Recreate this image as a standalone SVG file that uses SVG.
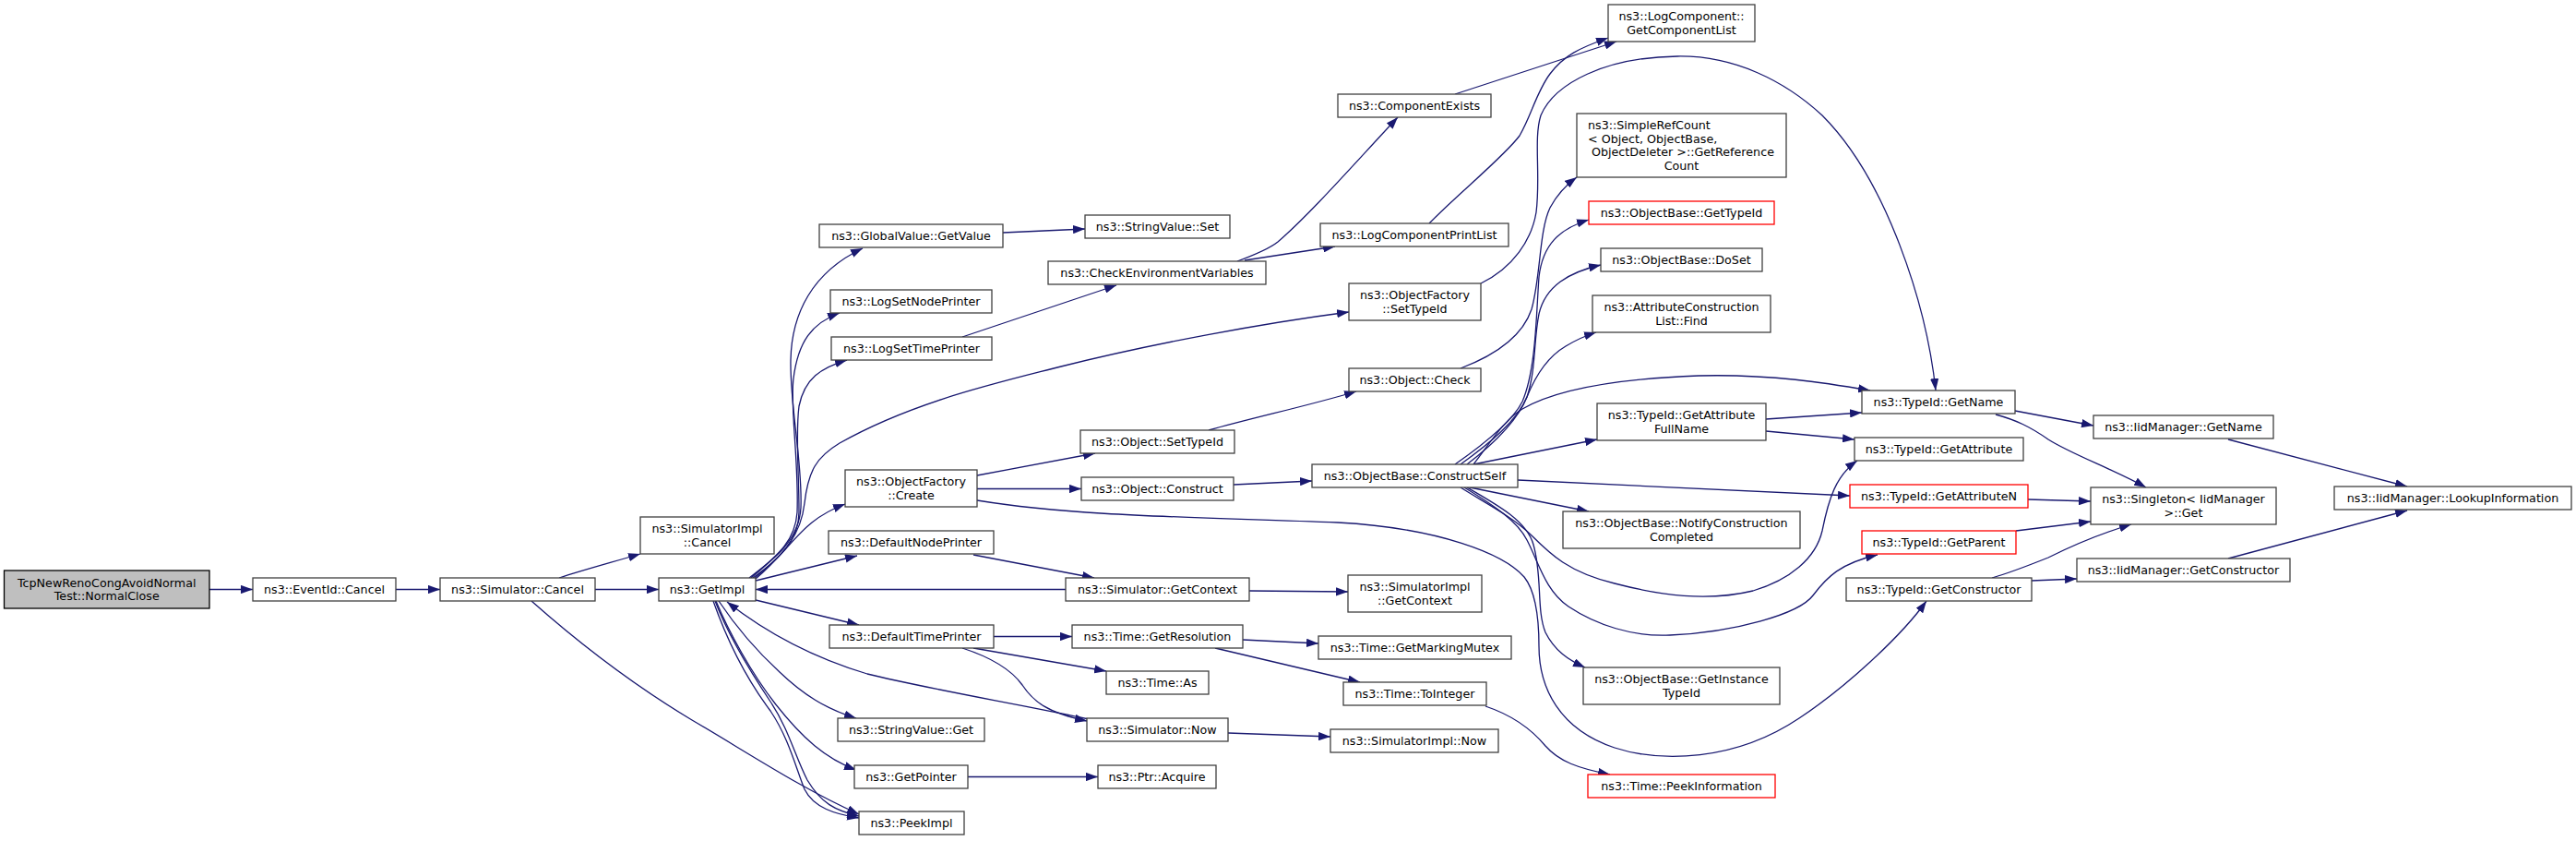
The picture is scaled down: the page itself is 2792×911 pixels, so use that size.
<svg xmlns="http://www.w3.org/2000/svg" width="2792" height="911" viewBox="0 0 2792 911">
<style>
.n rect{fill:#fff;stroke:#404040;stroke-width:1.3}
.n.red rect{stroke:#ff0000}
.n.root rect{fill:#bfbfbf;stroke:#000}
text{font-family:"DejaVu Sans","Liberation Sans",sans-serif;font-size:12.7px;fill:#000;text-anchor:middle}
text.l{text-anchor:start}
#edges path{fill:none;stroke:#191970;stroke-width:1.3;marker-end:url(#ah)}
</style>
<defs>
<marker id="ah" viewBox="0 0 13 9.3" markerWidth="13" markerHeight="9.3" refX="13" refY="4.65" orient="auto" markerUnits="userSpaceOnUse">
<path d="M0,0 L13,4.65 L0,9.3 z" fill="#191970"/>
</marker>
</defs>
<rect x="0" y="0" width="2792" height="911" fill="#fff"/>
<g id="edges">
<path d="M227,638.5 L274,638.5"/>
<path d="M429,638.5 L477,638.5"/>
<path d="M606,626 C630,618 660,610 694,600"/>
<path d="M645,638.5 L714,638.5"/>
<path d="M576,651 C620,690 680,738 750,780 C810,815 870,855 931,882"/>
<path d="M812,626 C840,605 866,585 868,550 C870,500 856,440 857,390 C858,340 880,295 935,269"/>
<path d="M814,626 C845,600 862,585 864,555 C866,500 856,440 860,410 C865,370 880,350 910,339"/>
<path d="M816,626 C845,605 866,585 866,555 C866,510 862,470 866,440 C872,410 890,398 918,390"/>
<path d="M818,626 C850,600 868,580 872,545 C876,510 885,495 910,480 C990,435 1080,415 1150,397 C1250,372 1370,350 1462,338"/>
<path d="M819,627 C845,605 862,580 880,566 C890,558 900,552 916,546"/>
<path d="M819,629 L929,602"/>
<path d="M819,650 L931,677"/>
<path d="M1155,638.5 L819,638.5"/>
<path d="M1055,601 L1186,626"/>
<path d="M779,651 C795,675 820,705 845,728 C870,752 895,768 928,778"/>
<path d="M776,651 C790,685 815,730 840,762 C870,800 895,822 928,834"/>
<path d="M773,651 C785,685 805,730 835,770 C855,800 862,830 872,855 C882,875 905,882 931,886"/>
<path d="M775,651 C790,690 815,730 835,760 C855,790 862,820 875,845 C890,870 905,878 931,884"/>
<path d="M1180,779 C1100,762 1000,745 940,730 C880,712 830,685 788,652"/>
<path d="M1077,689.5 L1162,689.5"/>
<path d="M1055,702 L1199,727"/>
<path d="M1043,702 C1080,714 1098,728 1108,742 C1120,760 1135,772 1178,781"/>
<path d="M1049,841.5 L1190,841.5"/>
<path d="M1087,252 L1176,248"/>
<path d="M1043,365 L1210,309"/>
<path d="M1059,515 L1187,491"/>
<path d="M1059,529.5 L1172,529.5"/>
<path d="M1059,542 C1170,560 1300,560 1450,566 C1560,572 1630,600 1652,625 C1664,640 1668,665 1668,700 C1668,745 1690,790 1750,810 C1800,826 1880,825 1950,778 C2000,745 2060,690 2088,651"/>
<path d="M1337,525 L1422,521"/>
<path d="M1310,466 C1360,452 1420,439 1470,424"/>
<path d="M1341,283 C1360,276 1375,270 1385,262 C1420,232 1470,175 1515,127"/>
<path d="M1349,282 L1447,267"/>
<path d="M1577,102 L1752,45"/>
<path d="M1549,242 C1580,210 1630,170 1647,147 C1660,125 1665,100 1680,80 C1695,60 1712,52 1743,41"/>
<path d="M1605,307 C1640,290 1660,260 1665,230 C1670,190 1662,150 1670,125 C1685,90 1740,62 1818,61 C1880,60 1935,88 1975,125 C2045,195 2088,330 2098,423"/>
<path d="M1583,399 C1620,385 1650,365 1660,335 C1670,300 1668,250 1680,225 C1688,210 1698,200 1709,192"/>
<path d="M1577,503 C1610,480 1640,455 1650,435 C1665,400 1665,340 1668,300 C1672,265 1690,248 1722,238"/>
<path d="M1583,503 C1615,480 1645,455 1655,430 C1665,400 1662,370 1668,340 C1675,310 1700,295 1735,287"/>
<path d="M1590,503 C1620,480 1645,455 1655,430 C1665,405 1680,385 1697,375 C1707,369 1717,364 1730,360"/>
<path d="M1597,503 C1615,480 1630,455 1650,443 C1690,420 1760,410 1841,407 C1920,405 1980,415 2027,423"/>
<path d="M1597,503 L1731,476"/>
<path d="M1645,520 L2005,537"/>
<path d="M1593,528 L1722,554"/>
<path d="M1583,528 C1610,545 1640,560 1660,580 C1680,600 1700,620 1750,632 C1800,645 1850,652 1900,640 C1940,628 1968,605 1975,575 C1982,540 1990,515 2013,499"/>
<path d="M1587,528 C1620,548 1645,565 1655,585 C1668,610 1675,640 1700,657 C1730,677 1770,690 1810,688 C1880,685 1950,665 1965,645 C1980,625 1995,610 2035,601"/>
<path d="M1590,528 C1625,548 1655,565 1662,590 C1672,625 1665,660 1675,685 C1685,705 1700,715 1718,723"/>
<path d="M1347,693 L1429,697"/>
<path d="M1317,702 L1474,739"/>
<path d="M1354,640 L1461,641"/>
<path d="M1331,794 L1442,798"/>
<path d="M1610,765 C1640,775 1660,790 1675,808 C1690,825 1710,832 1745,839"/>
<path d="M1914,454 L2018,447"/>
<path d="M1914,467 L2010,476"/>
<path d="M2184,445 L2269,461"/>
<path d="M2163,449 C2185,455 2200,462 2220,476 C2245,492 2290,508 2326,528"/>
<path d="M2198,541 L2266,543"/>
<path d="M2185,575 L2266,565"/>
<path d="M2159,626 C2180,620 2200,612 2220,604 C2240,594 2270,580 2310,568"/>
<path d="M2202,629 L2251,627"/>
<path d="M2415,476 L2609,527"/>
<path d="M2415,605 L2609,553"/>
</g>
<g id="n1" class="n root"><rect x="4.5" y="618" width="222.5" height="41"/><text x="115.75" y="635.75">TcpNewRenoCongAvoidNormal</text><text x="115.75" y="650.45">Test::NormalClose</text></g>
<g id="n2" class="n"><rect x="274" y="626" width="155" height="25"/><text x="351.5" y="643.1">ns3::EventId::Cancel</text></g>
<g id="n3" class="n"><rect x="477" y="626" width="168" height="25"/><text x="561" y="643.1">ns3::Simulator::Cancel</text></g>
<g id="n4" class="n"><rect x="694" y="560" width="145" height="40"/><text x="766.5" y="577.25">ns3::SimulatorImpl</text><text x="766.5" y="591.95">::Cancel</text></g>
<g id="n5" class="n"><rect x="714" y="626" width="105" height="25"/><text x="766.5" y="643.1">ns3::GetImpl</text></g>
<g id="n6" class="n"><rect x="888" y="243" width="199" height="25"/><text x="987.5" y="260.1">ns3::GlobalValue::GetValue</text></g>
<g id="n7" class="n"><rect x="900" y="314" width="175" height="25"/><text x="987.5" y="331.1">ns3::LogSetNodePrinter</text></g>
<g id="n8" class="n"><rect x="901" y="365" width="174" height="25"/><text x="988" y="382.1">ns3::LogSetTimePrinter</text></g>
<g id="n9" class="n"><rect x="916" y="509" width="143" height="40"/><text x="987.5" y="526.25">ns3::ObjectFactory</text><text x="987.5" y="540.95">::Create</text></g>
<g id="n10" class="n"><rect x="898" y="575" width="179" height="25"/><text x="987.5" y="592.1">ns3::DefaultNodePrinter</text></g>
<g id="n11" class="n"><rect x="899" y="677" width="178" height="25"/><text x="988" y="694.1">ns3::DefaultTimePrinter</text></g>
<g id="n12" class="n"><rect x="908" y="778" width="159" height="25"/><text x="987.5" y="795.1">ns3::StringValue::Get</text></g>
<g id="n13" class="n"><rect x="926" y="829" width="123" height="25"/><text x="987.5" y="846.1">ns3::GetPointer</text></g>
<g id="n14" class="n"><rect x="931" y="879" width="114" height="25"/><text x="988" y="896.1">ns3::PeekImpl</text></g>
<g id="n15" class="n"><rect x="1176" y="233" width="157" height="25"/><text x="1254.5" y="250.1">ns3::StringValue::Set</text></g>
<g id="n16" class="n"><rect x="1136" y="283" width="236" height="25"/><text x="1254" y="300.1">ns3::CheckEnvironmentVariables</text></g>
<g id="n17" class="n"><rect x="1171" y="466" width="167" height="25"/><text x="1254.5" y="483.1">ns3::Object::SetTypeId</text></g>
<g id="n18" class="n"><rect x="1172" y="517" width="165" height="25"/><text x="1254.5" y="534.1">ns3::Object::Construct</text></g>
<g id="n19" class="n"><rect x="1155" y="626" width="199" height="25"/><text x="1254.5" y="643.1">ns3::Simulator::GetContext</text></g>
<g id="n20" class="n"><rect x="1162" y="677" width="185" height="25"/><text x="1254.5" y="694.1">ns3::Time::GetResolution</text></g>
<g id="n21" class="n"><rect x="1199" y="727" width="111" height="25"/><text x="1254.5" y="744.1">ns3::Time::As</text></g>
<g id="n22" class="n"><rect x="1178" y="778" width="153" height="25"/><text x="1254.5" y="795.1">ns3::Simulator::Now</text></g>
<g id="n23" class="n"><rect x="1190" y="829" width="128" height="25"/><text x="1254" y="846.1">ns3::Ptr::Acquire</text></g>
<g id="n24" class="n"><rect x="1450" y="102" width="166" height="25"/><text x="1533" y="119.1">ns3::ComponentExists</text></g>
<g id="n25" class="n"><rect x="1431" y="242" width="204" height="25"/><text x="1533" y="259.1">ns3::LogComponentPrintList</text></g>
<g id="n26" class="n"><rect x="1462" y="307" width="143" height="40"/><text x="1533.5" y="324.25">ns3::ObjectFactory</text><text x="1533.5" y="338.95">::SetTypeId</text></g>
<g id="n27" class="n"><rect x="1462" y="399" width="143" height="25"/><text x="1533.5" y="416.1">ns3::Object::Check</text></g>
<g id="n28" class="n"><rect x="1422" y="503" width="223" height="25"/><text x="1533.5" y="520.1">ns3::ObjectBase::ConstructSelf</text></g>
<g id="n29" class="n"><rect x="1461" y="623" width="145" height="40"/><text x="1533.5" y="640.25">ns3::SimulatorImpl</text><text x="1533.5" y="654.95">::GetContext</text></g>
<g id="n30" class="n"><rect x="1429" y="689" width="209" height="25"/><text x="1533.5" y="706.1">ns3::Time::GetMarkingMutex</text></g>
<g id="n31" class="n"><rect x="1456" y="739" width="155" height="25"/><text x="1533.5" y="756.1">ns3::Time::ToInteger</text></g>
<g id="n32" class="n"><rect x="1442" y="790" width="182" height="25"/><text x="1533" y="807.1">ns3::SimulatorImpl::Now</text></g>
<g id="n33" class="n"><rect x="1743" y="5" width="159" height="40"/><text x="1822.5" y="22.25">ns3::LogComponent::</text><text x="1822.5" y="36.95">GetComponentList</text></g>
<g id="n34" class="n"><rect x="1709" y="123" width="227" height="69"/><text class="l" x="1721" y="140.05">ns3::SimpleRefCount</text><text class="l" x="1721" y="154.75">&lt; Object, ObjectBase,</text><text class="l" x="1725" y="169.45">ObjectDeleter &gt;::GetReference</text><text x="1822.5" y="184.15">Count</text></g>
<g id="n35" class="n red"><rect x="1722" y="218" width="201" height="25"/><text x="1822.5" y="235.1">ns3::ObjectBase::GetTypeId</text></g>
<g id="n36" class="n"><rect x="1735" y="269" width="175" height="25"/><text x="1822.5" y="286.1">ns3::ObjectBase::DoSet</text></g>
<g id="n37" class="n"><rect x="1726" y="320" width="193" height="40"/><text x="1822.5" y="337.25">ns3::AttributeConstruction</text><text x="1822.5" y="351.95">List::Find</text></g>
<g id="n38" class="n"><rect x="1731" y="437" width="183" height="40"/><text x="1822.5" y="454.25">ns3::TypeId::GetAttribute</text><text x="1822.5" y="468.95">FullName</text></g>
<g id="n39" class="n"><rect x="1694" y="554" width="257" height="40"/><text x="1822.5" y="571.25">ns3::ObjectBase::NotifyConstruction</text><text x="1822.5" y="585.95">Completed</text></g>
<g id="n40" class="n"><rect x="1716" y="723" width="213" height="40"/><text x="1822.5" y="740.25">ns3::ObjectBase::GetInstance</text><text x="1822.5" y="754.95">TypeId</text></g>
<g id="n41" class="n red"><rect x="1721" y="839" width="203" height="25"/><text x="1822.5" y="856.1">ns3::Time::PeekInformation</text></g>
<g id="n42" class="n"><rect x="2018" y="423" width="166" height="25"/><text x="2101" y="440.1">ns3::TypeId::GetName</text></g>
<g id="n43" class="n"><rect x="2010" y="474" width="183" height="25"/><text x="2101.5" y="491.1">ns3::TypeId::GetAttribute</text></g>
<g id="n44" class="n red"><rect x="2005" y="525" width="193" height="25"/><text x="2101.5" y="542.1">ns3::TypeId::GetAttributeN</text></g>
<g id="n45" class="n red"><rect x="2018" y="575" width="167" height="25"/><text x="2101.5" y="592.1">ns3::TypeId::GetParent</text></g>
<g id="n46" class="n"><rect x="2001" y="626" width="201" height="25"/><text x="2101.5" y="643.1">ns3::TypeId::GetConstructor</text></g>
<g id="n47" class="n"><rect x="2269" y="450" width="195" height="25"/><text x="2366.5" y="467.1">ns3::IidManager::GetName</text></g>
<g id="n48" class="n"><rect x="2266" y="528" width="201" height="40"/><text x="2366.5" y="545.25">ns3::Singleton&lt; IidManager</text><text x="2366.5" y="559.95"> &gt;::Get</text></g>
<g id="n49" class="n"><rect x="2251" y="605" width="231" height="25"/><text x="2366.5" y="622.1">ns3::IidManager::GetConstructor</text></g>
<g id="n50" class="n"><rect x="2530" y="527" width="257" height="25"/><text x="2658.5" y="544.1">ns3::IidManager::LookupInformation</text></g>
</svg>
